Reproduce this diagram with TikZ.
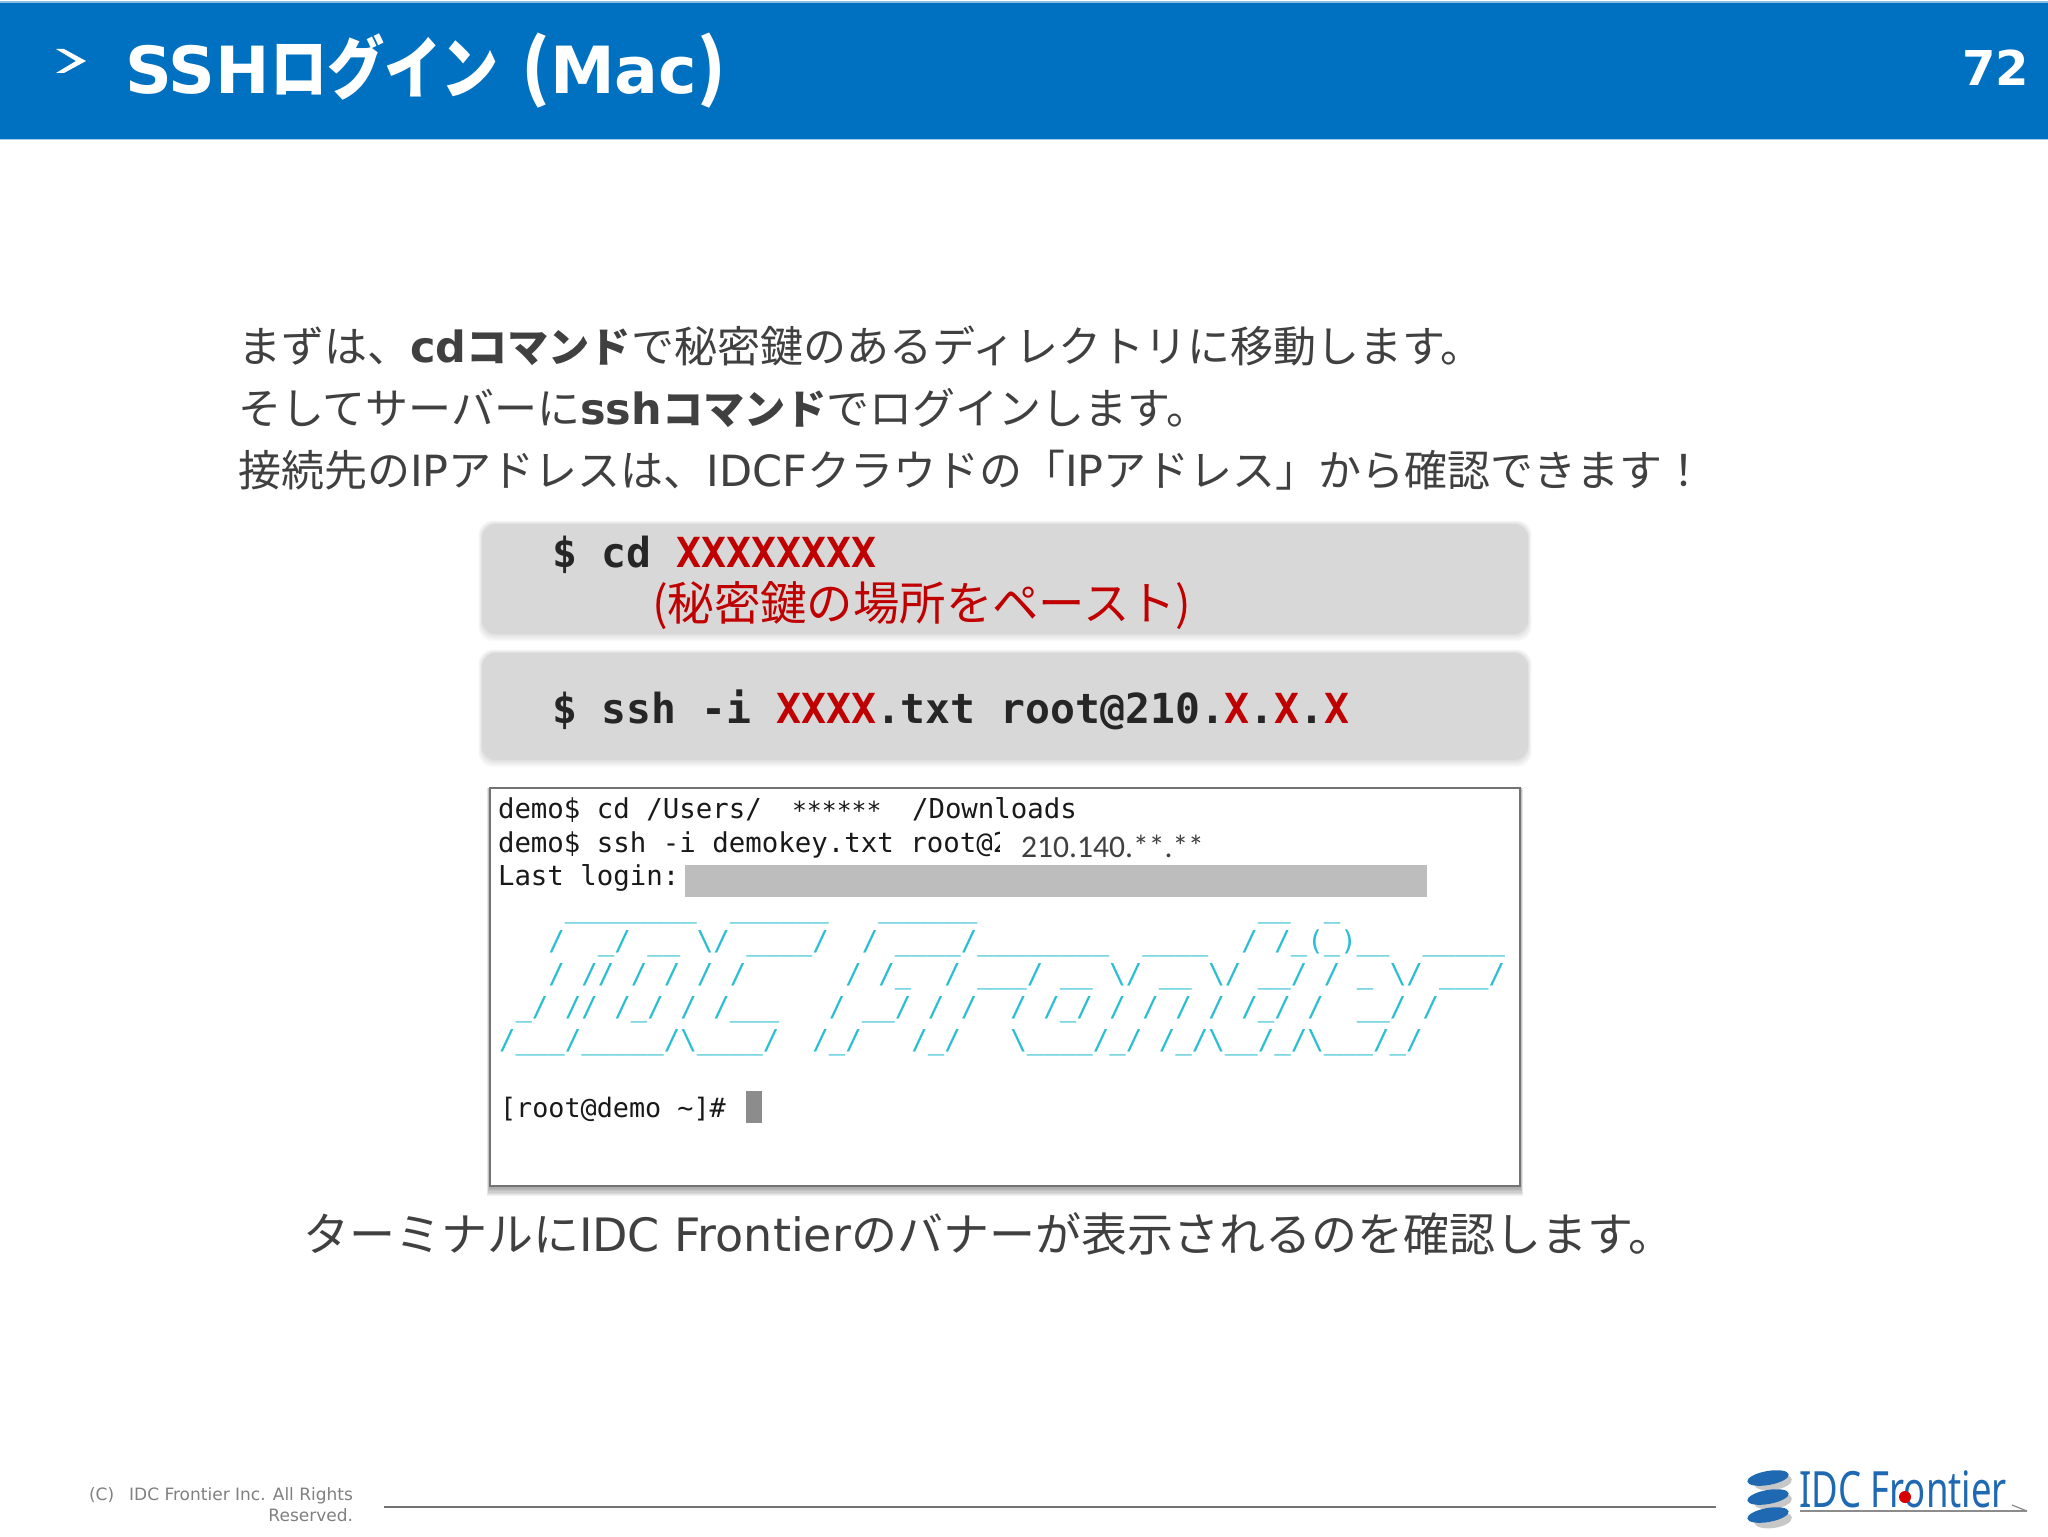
\documentclass[tikz,border=0pt]{standalone}
\usepackage{fontspec}
\setmainfont{DejaVu Sans}
\newfontfamily\jp{Noto Sans CJK JP}
\newfontfamily\mono{DejaVu Sans Mono}
\newfontfamily\narrow{Carlito}
\newfontfamily\logofont{Noto Sans}
\newcommand{\J}[1]{{\jp #1}}
\newcommand{\JB}[1]{{\jp\bfseries\fontsize{20.6pt}{20.6pt}\selectfont #1}}
\newcommand{\bs}{\char92\relax}
\newcommand{\fs}[1]{\fontsize{#1pt}{#1pt}\selectfont}
\catcode`\_=12
\definecolor{hdr}{RGB}{0,112,192}
\definecolor{bodytx}{RGB}{64,64,64}
\definecolor{boxgray}{RGB}{217,216,217}
\definecolor{cmdred}{RGB}{192,0,0}
\definecolor{cmdtx}{RGB}{38,38,38}
\definecolor{artcyan}{RGB}{41,190,210}
\definecolor{logoblue}{RGB}{31,105,178}
\tikzset{
  lbl/.style={anchor=base west,inner sep=0pt,outer sep=0pt},
  bodyline/.style={lbl,text=bodytx,font=\fs{21.5}},
  cmd/.style={lbl,text=cmdtx,font=\mono\bfseries\fs{20.7}},
  term/.style={lbl,text=black!90,font=\mono\fs{13.7}},
  art/.style={lbl,text=artcyan,font=\mono\fs{13.7}},
  cmdbox/.style={fill=boxgray,rounded corners=7pt},
  shade layer/.style={fill=black,fill opacity=.018,rounded corners=7pt},
}
\begin{document}
\begin{tikzpicture}[x=0.5pt,y=-0.5pt]
\useasboundingbox (0,0) rectangle (2048,1536);
\fill[white] (0,0) rectangle (2048,1536);
% header
\fill[hdr!45!white] (0,1) rectangle (2048,3);
\fill[hdr] (0,3) rectangle (2048,139);
\fill[hdr!35!white] (0,139) rectangle (2048,140);
\fill[white] (56,49) -- (64,49) -- (86,61) -- (64,73) -- (56,73) -- (76,61) -- cycle;
\node[lbl,text=white,font=\bfseries\fs{32.5}] (title) at (125,94) {SSH\scalebox{.84}[1]{\jp\fs{34}ログイン} {\jp\fontsize{36pt}{36pt}\selectfont(}Mac{\jp\fontsize{36pt}{36pt}\selectfont)}};
\node[lbl,anchor=base east,text=white,font=\bfseries\fs{24}] (pageno) at (2029,86) {72};
% body text
\node[bodyline] (l1) at (238,362) {\J{まずは、}\textbf{cd\JB{コマンド}}\J{で秘密鍵のあるディレクトリに移動します。}};
\node[bodyline] (l2) at (238,424) {\J{そしてサーバーに}\textbf{ssh\JB{コマンド}}\J{でログインします。}};
\node[bodyline] (l3) at (238,486) {\J{接続先の}IP\J{アドレスは、}IDCF\J{クラウドの「}IP\J{アドレス」から確認できます！}};
% command boxes
\foreach \d in {1,2,3,4,5,6}{
  \fill[shade layer] (482-.6*\d,524-.6*\d) rectangle (1528+.6*\d,634+1.2*\d);
  \fill[shade layer] (482-.6*\d,653-.6*\d) rectangle (1528+.6*\d,760+1.2*\d);
}
\fill[cmdbox] (482,524) rectangle (1528,634);
\fill[cmdbox] (482,653) rectangle (1528,760);
\node[cmd] (c1) at (552,567) {\$ cd \textcolor{cmdred}{XXXXXXXX}};
\node[lbl,text=cmdred,font=\jp\fs{23.2}] (c1b) at (652,620) {(秘密鍵の場所をペースト)};
\node[cmd] (c2) at (552,723) {\$ ssh -i \textcolor{cmdred}{XXXX}.txt root@210.\textcolor{cmdred}{X}.\textcolor{cmdred}{X}.\textcolor{cmdred}{X}};
% terminal
\foreach \d in {1,2,3,4,5,6,7,8}{
  \fill[black,fill opacity=.05] (490-.4*\d,788) rectangle (1520+.4*\d,1186+1.3*\d);
}
\draw[draw=black!55,line width=1pt,fill=white] (490,788) rectangle (1520,1186);
\node[term] (t1) at (498,818) {demo\$ cd /Users/};
\node[term,font=\mono\fs{12.4}] (t1b) at (792,819) {******};
\node[term] (t1c) at (912,818) {/Downloads};
\node[term] (t2) at (498,852) {demo\$ ssh -i demokey.txt root@2};
\fill[white] (1000,830) rectangle (1016,862);
\node[lbl,text=black!75,font=\narrow\fs{15.8}] (t2b) at (1021,857) {210.140.**.**};
\node[term] (t3) at (498,885) {Last login:};
\fill[black!26] (685,865) rectangle (1427,897);
\node[art] (a1) at (499,917) {~~~~________~~______~~~______~~~~~~~~~~~~~~~~~__~~_};
\node[art] (a2) at (499,950) {~~~/~~_/~__~\bs/~____/~~/~____/________~~____~~/~/_(_)__~~_____};
\node[art] (a3) at (499,983) {~~~/~//~/~/~/~/~~~~~~/~/_~~/~___/~__~\bs/~__~\bs/~__/~/~_~\bs/~___/};
\node[art] (a4) at (499,1016) {~_/~//~/_/~/~/___~~~/~__/~/~/~~/~/_/~/~/~/~/~/_/~/~~__/~/};
\node[art] (a5) at (499,1049) {/___/_____/\bs____/~~/_/~~~/_/~~~\bs____/_/~/_/\bs__/_/\bs___/_/};
\node[term,font=\mono\fs{13.4}] (t4) at (500,1117) {[root@demo \string~]\#};
\fill[black!45] (746,1091) rectangle (762,1123);
% bottom text
\node[bodyline,font=\fs{23}] (l4) at (303,1251) {\J{ターミナルに}IDC Frontier\J{のバナーが表示されるのを確認します。}};
% footer
\node[lbl,anchor=base east,text=black!50,font=\fs{8.5}] (f1) at (353,1500) {(C)\hspace{7.5pt}IDC Frontier Inc. All Rights};
\node[lbl,anchor=base east,text=black!50,font=\fs{8.5}] (f2) at (353,1521) {Reserved.};
\coordinate (fa) at (384,1507);
\coordinate (fb) at (1716,1507);
\draw[black!55,line width=.7pt] (fa) -- (fb);
% logo
\foreach \yy in {1482,1501,1520}{
  \fill[black!22,rotate around={8:(1773,\yy)}] (1773,\yy) ellipse [x radius=19,y radius=8];
}
\foreach \yy in {1478,1497,1515}{
  \fill[logoblue,rotate around={10:(1768,\yy)}] (1768,\yy) ellipse [x radius=21,y radius=7];
}
\node[lbl,text=logoblue,font=\logofont\fs{25},xscale=.73,transform shape] (logo) at (1799,1507) {IDC Frontier};
\fill[red!85!black] (1905,1497) circle (6);
\coordinate (ua) at (1800,1511);
\coordinate (ub) at (2027,1511);
\draw[black!45,line width=.8pt] (ua) -- (ub);
\draw[black!45,line width=.6pt] (2012,1505) -- (ub);
\end{tikzpicture}
\end{document}
